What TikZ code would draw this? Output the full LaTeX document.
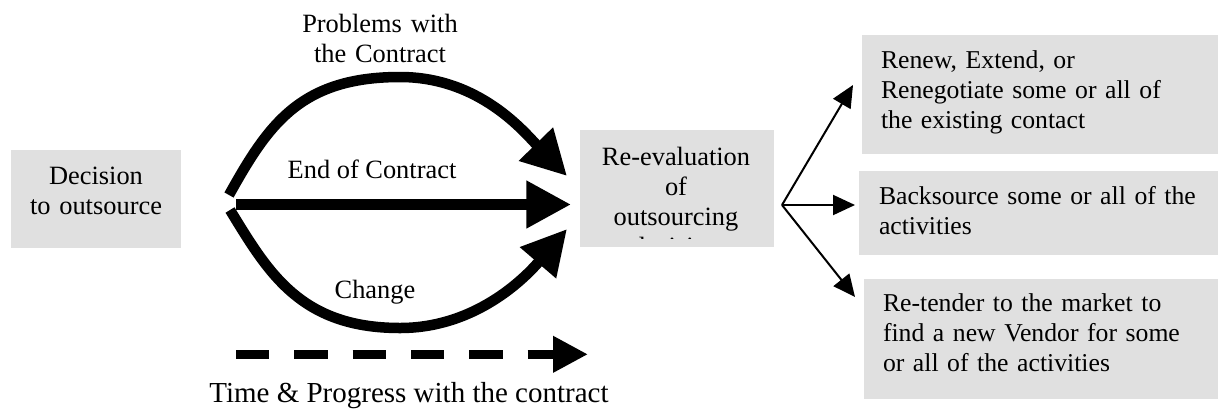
\documentclass[tikz,border=0pt]{standalone}
\usepackage{fontspec}
\setmainfont{Liberation Serif}
\usetikzlibrary{arrows.meta}
\definecolor{boxgray}{RGB}{224,224,224}

\begin{document}
\begin{tikzpicture}[x=0.5pt,y=-0.5pt,
  box/.style={fill=boxgray, draw=none, inner sep=0pt, outer sep=0pt},
  txt/.style={font=\fontsize{13.2}{15}\selectfont, inner sep=0pt, outer sep=0pt},
  ctxt/.style={txt, align=center, anchor=base},
  ltxt/.style={txt, font=\fontsize{12.85}{15}\selectfont, text width=165pt,
               align=left, anchor=base west},
  bigarrow/.style={line width=5.25pt, -{Triangle[length=22.3pt,width=22.5pt]}},
  thinarrow/.style={line width=1pt, -{Triangle[length=11pt,width=10pt]}},
  timearrow/.style={line width=4.5pt, dash pattern=on 16.67pt off 12.5pt,
                    -{Triangle[length=17.5pt,width=17.2pt]}}]

% canvas
\fill[white] (0,0) rectangle (1218,408);
\useasboundingbox (0,0) rectangle (1218,408);

% grey boxes
\node[box, minimum width=85pt,  minimum height=49pt]   (dec)    at (96,199)     {};
\node[box, minimum width=97pt,  minimum height=58.5pt] (reeval) at (677,188.5)  {};
\node[box, minimum width=178pt, minimum height=59.5pt] (opt1)   at (1040,94.5)  {};
\node[box, minimum width=179.5pt, minimum height=42pt] (opt2)   at (1038.5,213) {};
\node[box, minimum width=177pt, minimum height=60pt]   (opt3)   at (1041,339)   {};

% box texts
\node[ctxt, text width=85pt] (dectext) at (96,184.3) {Decision\\to outsource};
\begin{scope}
  \clip (580,130) rectangle (774,238);
  \node[ctxt, text width=95pt] (reevaltext) at (676,165)
    {Re-evaluation\\of\\outsourcing\\decision};
\end{scope}
\node[ltxt] (opt1text) at (881,68.7)
  {Renew, Extend, or\\Renegotiate some or all of\\the existing contact};
\node[ltxt] (opt2text) at (879,204)
  {Backsource some or all of the\\activities};
\node[ltxt] (opt3text) at (883,311.8)
  {Re-tender to the market to\\find a new Vendor for some\\or all of the activities};

% arrow labels
\node[ctxt, text width=90pt] (lblproblems) at (380,32.7) {Problems with\\the Contract};
\node[ctxt] (lblend)    at (372,178.3) {End of Contract};
\node[ctxt] (lblchange) at (375,298.3) {Change};
\node[txt, anchor=base, font=\fontsize{14.5}{17}\selectfont] (lbltime) at (409,402.7)
  {Time \& Progress with the contract};

% end points of the three paths
\coordinate (uStart) at (229,195);
\coordinate (mStart) at (236,204.5);
\coordinate (lStart) at (230,210);
\coordinate (uTip)   at (567,176);
\coordinate (mTip)   at (571,204.5);
\coordinate (lTip)   at (567,229);

% three routes to re-evaluation
\draw[bigarrow] (uStart) .. controls (268,125) and (300,77) .. (400,77)
                         .. controls (480,77) and (525,133) .. (uTip);
\draw[bigarrow] (mStart) -- (mTip);
\draw[bigarrow] (lStart) .. controls (268,272) and (300,328) .. (400,328)
                         .. controls (480,328) and (530,272) .. (lTip);

% time line
\coordinate (dStart) at (236,354.3);
\coordinate (dTip)   at (588,354.3);
\draw[timearrow] (dStart) -- (dTip);

% outcomes
\coordinate (fan) at (782,205);
\coordinate (t1)  at (853,85);
\coordinate (t2)  at (855,205);
\coordinate (t3)  at (855,297);
\draw[thinarrow] (fan) -- (t1);
\draw[thinarrow] (fan) -- (t2);
\draw[thinarrow] (fan) -- (t3);
\end{tikzpicture}
\end{document}
